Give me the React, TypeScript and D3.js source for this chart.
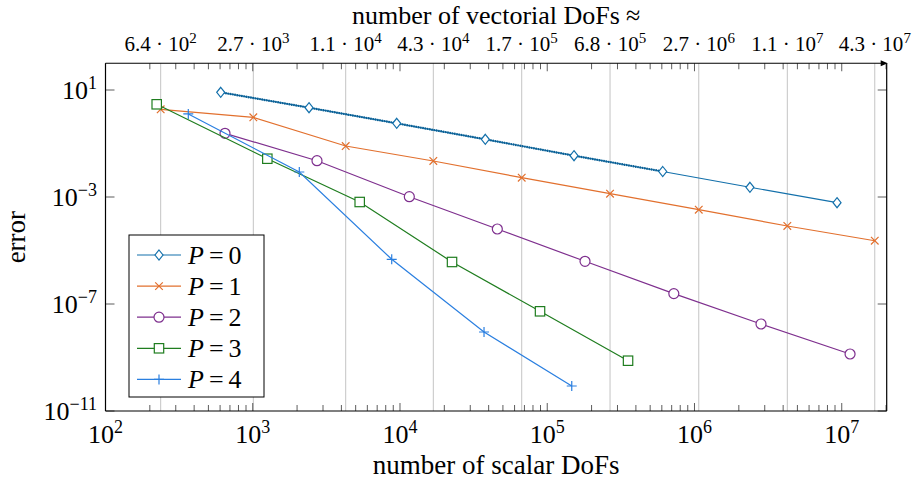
import React from 'react';
import * as d3 from 'd3';

// series data: scalar DoFs vs error
const p0Dofs = [606, 2411, 9500, 37970, 152000, 608500, 2.38e6, 9.29e6];
const p0Err = [8.2, 2.18, 0.569, 0.1436, 0.035, 0.00898, 0.00231, 6.12e-4];

const p1Dofs = [237, 1009, 4278, 16840, 67090, 267000, 1.069e6, 4.27e6, 1.676e7];
const p1Err = [1.9, 0.954, 0.0806, 0.0222, 0.00527, 0.00133, 3.35e-4, 8.24e-5, 2.32e-5];

const p2Dofs = [648, 2731, 11570, 45810, 180500, 723800, 2.83e6, 1.139e7];
const p2Err = [0.2406, 0.02275, 1.026e-3, 6.37e-5, 3.95e-6, 2.45e-7, 1.79e-8, 1.35e-9];

const p3Dofs = [222.7, 1256, 5325, 22560, 89330, 353800];
const p3Err = [2.92, 0.027, 6.5e-4, 3.72e-6, 5.33e-8, 7.59e-10];

const p4Dofs = [365, 2071, 8786, 37210, 146700];
const p4Err = [1.27, 8.6e-3, 4.69e-6, 8.98e-9, 8.6e-11];

// top axis: positions in scalar DoFs, labels in vectorial DoFs
const topTickDofs = p1Dofs;
const topTickMant = ['6.4', '2.7', '1.1', '4.3', '1.7', '6.8', '2.7', '1.1', '4.3'];
const topTickExp = ['2', '3', '4', '4', '5', '5', '6', '7', '7'];

const xExps = [2, 3, 4, 5, 6, 7];
const yExps = [1, -3, -7, -11];

type Marker = 'diamond' | 'x' | 'circle' | 'square' | 'plus';

const series = [
  { name: '0', dofs: p0Dofs, err: p0Err, color: '#1370ab', marker: 'diamond' as Marker },
  { name: '1', dofs: p1Dofs, err: p1Err, color: '#e2702e', marker: 'x' as Marker },
  { name: '2', dofs: p2Dofs, err: p2Err, color: '#7e2f8e', marker: 'circle' as Marker },
  { name: '3', dofs: p3Dofs, err: p3Err, color: '#1f7d1f', marker: 'square' as Marker },
  { name: '4', dofs: p4Dofs, err: p4Err, color: '#2a7fe0', marker: 'plus' as Marker },
];

const W = 914;
const H = 485;
const left = 105.5;
const right = 886.7;
const top = 63.25;
const bottom = 411;

const x = d3.scaleLog().domain([100, 2.02e7]).range([left, right]);
const y = d3.scaleLog().domain([1e-11, 100]).range([bottom, top]);

const font = '"Liberation Serif", "DejaVu Serif", serif';

function MarkerShape({ type, cx, cy, color }: { type: Marker; cx: number; cy: number; color: string }) {
  const sw = 1.2;
  if (type === 'diamond') {
    return <path d={`M${cx},${cy - 5}L${cx + 4},${cy}L${cx},${cy + 5}L${cx - 4},${cy}Z`} fill="white" stroke={color} strokeWidth={sw} />;
  }
  if (type === 'x') {
    const r = 3.8;
    return <path d={`M${cx - r},${cy - r}L${cx + r},${cy + r}M${cx - r},${cy + r}L${cx + r},${cy - r}`} stroke={color} strokeWidth={sw} />;
  }
  if (type === 'circle') {
    return <circle cx={cx} cy={cy} r={5} fill="white" stroke={color} strokeWidth={sw} />;
  }
  if (type === 'square') {
    return <rect x={cx - 4.7} y={cy - 4.7} width={9.4} height={9.4} fill="white" stroke={color} strokeWidth={sw} />;
  }
  const r = 5;
  return <path d={`M${cx - r},${cy}L${cx + r},${cy}M${cx},${cy - r}L${cx},${cy + r}`} stroke={color} strokeWidth={sw} />;
}

export default function App() {
  const line = d3.line<[number, number]>().x(d => x(d[0])).y(d => y(d[1]));

  const minorTicks: number[] = [];
  for (let k = 2; k <= 7; k++) {
    for (let m = 2; m <= 9; m++) {
      const v = m * Math.pow(10, k);
      if (v <= 2.02e7) minorTicks.push(v);
    }
  }
  const majorTicks = xExps.map(e => Math.pow(10, e));

  return (
    <svg width={W} height={H} style={{ position: 'absolute', left: 0, top: 0, background: 'white' }} fontFamily={font}>
      {/* grid */}
      {topTickDofs.map((d, i) => (
        <line key={'g' + i} x1={x(d)} x2={x(d)} y1={top} y2={bottom} stroke="#c4c4c4" strokeWidth={1} />
      ))}

      {/* ticks */}
      {minorTicks.map((v, i) => (
        <g key={'mt' + i} stroke="#333" strokeWidth={0.8}>
          <line x1={x(v)} x2={x(v)} y1={bottom} y2={bottom - 6} />
          <line x1={x(v)} x2={x(v)} y1={top} y2={top + 6} />
        </g>
      ))}
      {majorTicks.map((v, i) => (
        <g key={'Mt' + i} stroke="#333" strokeWidth={0.8}>
          <line x1={x(v)} x2={x(v)} y1={bottom} y2={bottom - 8} />
          <line x1={x(v)} x2={x(v)} y1={top} y2={top + 8} />
        </g>
      ))}
      {yExps.map((e, i) => (
        <g key={'yt' + i} stroke="#333" strokeWidth={0.8}>
          <line x1={left} x2={left + 9} y1={y(Math.pow(10, e))} y2={y(Math.pow(10, e))} />
          <line x1={right} x2={right - 9} y1={y(Math.pow(10, e))} y2={y(Math.pow(10, e))} />
        </g>
      ))}

      {/* series */}
      {series.map(s => {
        const pts = s.dofs.map((d, i) => [d, s.err[i]] as [number, number]);
        return (
          <g key={s.name}>
            <path d={line(pts) || ''} fill="none" stroke={s.color} strokeWidth={1.2} />
            {s.name === '0' && (
              <path d={line(pts.slice(0, 6)) || ''} fill="none" stroke="#0b5f93" strokeWidth={2.2} strokeDasharray="1.5,0.8" />
            )}
            {pts.map((p, i) => (
              <MarkerShape key={i} type={s.marker} cx={x(p[0])} cy={y(p[1])} color={s.color} />
            ))}
          </g>
        );
      })}

      {/* frame */}
      <g stroke="black" strokeWidth={1.2} fill="none">
        <line x1={left} x2={left} y1={top} y2={bottom} />
        <line x1={left} x2={right} y1={bottom} y2={bottom} />
        <line x1={right} x2={right} y1={top} y2={bottom} />
        <line x1={left} x2={right - 2} y1={top} y2={top} />
      </g>
      <path d={`M${right - 6},${top - 3}L${right + 1},${top}L${right - 6},${top + 3}Z`} fill="black" />

      {/* bottom tick labels */}
      {xExps.map((e, i) => (
        <text key={'xl' + i} x={x(Math.pow(10, e))} y={443} textAnchor="middle" fontSize={26}>
          <tspan>10</tspan>
          <tspan dy={-10} fontSize={18}>{e}</tspan>
        </text>
      ))}

      {/* left tick labels */}
      {yExps.map((e, i) => (
        <text key={'yl' + i} x={97} y={y(Math.pow(10, e)) + 9} textAnchor="end" fontSize={26}>
          <tspan>10</tspan>
          <tspan dy={-10} fontSize={18}>{e < 0 ? '\u2212' + -e : e}</tspan>
        </text>
      ))}

      {/* top tick labels */}
      {topTickDofs.map((d, i) => (
        <text key={'tl' + i} x={x(d)} y={51} textAnchor="middle" fontSize={21}>
          <tspan>{topTickMant[i]} · 10</tspan>
          <tspan dy={-8} fontSize={15}>{topTickExp[i]}</tspan>
        </text>
      ))}

      {/* axis labels */}
      <text x={(left + right) / 2} y={24} textAnchor="middle" fontSize={26}>
        <tspan>number of vectorial DoFs</tspan>
        <tspan dx={6}>≈</tspan>
      </text>
      <text x={(left + right) / 2} y={474} textAnchor="middle" fontSize={27}>number of scalar DoFs</text>
      <text transform={`translate(25,${(top + bottom) / 2}) rotate(-90)`} textAnchor="middle" fontSize={27}>error</text>

      {/* legend */}
      <rect x={129} y={235} width={135} height={162} fill="white" stroke="black" strokeWidth={1} />
      {series.map((s, i) => {
        const ly = 255 + i * 31.1;
        return (
          <g key={'lg' + i}>
            <line x1={137} x2={181} y1={ly} y2={ly} stroke={s.color} strokeWidth={1.2} />
            <MarkerShape type={s.marker} cx={159} cy={ly} color={s.color} />
            <text x={188} y={ly + 9} fontSize={26}>
              <tspan fontStyle="italic">P</tspan>
              <tspan dx={5}>=</tspan>
              <tspan dx={5}>{s.name}</tspan>
            </text>
          </g>
        );
      })}
    </svg>
  );
}
